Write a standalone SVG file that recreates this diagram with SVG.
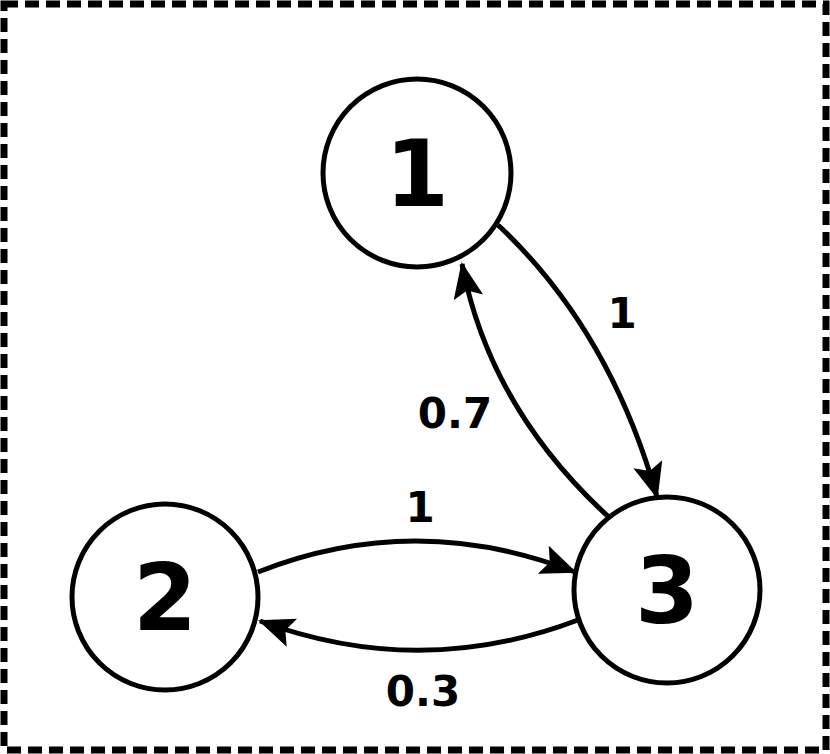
<svg xmlns="http://www.w3.org/2000/svg" width="830" height="754" viewBox="0 0 830 754">
<style>
.n{fill:#fff;stroke:#000;stroke-width:5}
.t{font-family:"DejaVu Sans",sans-serif;font-weight:bold;font-size:92px;text-anchor:middle}
.l{font-family:"DejaVu Sans",sans-serif;font-weight:bold;font-size:42px;text-anchor:middle}
.e{fill:none;stroke:#000;stroke-width:5;marker-end:url(#a)}
</style>
<defs><marker id="a" markerUnits="userSpaceOnUse" markerWidth="44" markerHeight="40" refX="34" refY="15" orient="auto"><path d="M0,0 L36,15 L0,30 L7,15 Z" fill="#000"/></marker></defs>
<rect x="4" y="4" width="822" height="746" fill="#fff" stroke="#000" stroke-width="7" stroke-dasharray="14,7"/>
<g id="edges">
<path class="e" d="M498,225 Q610,330 657,497"/>
<path class="e" d="M612,520 Q490,410 462,264"/>
<path class="e" d="M258,572 Q415,510 575,572"/>
<path class="e" d="M578,620 Q420,680 260,621"/>
<text class="l" x="622" y="328">1</text>
<text class="l" x="455" y="428">0.7</text>
<text class="l" x="420" y="522">1</text>
<text class="l" x="423" y="706">0.3</text>
</g>
<g id="n1"><circle class="n" cx="417" cy="173" r="94"/><text class="t" x="417" y="206">1</text></g>
<g id="n2"><circle class="n" cx="165" cy="597" r="93"/><text class="t" x="165" y="630">2</text></g>
<g id="n3"><circle class="n" cx="667" cy="590" r="93"/><text class="t" x="667" y="623">3</text></g>
</svg>
